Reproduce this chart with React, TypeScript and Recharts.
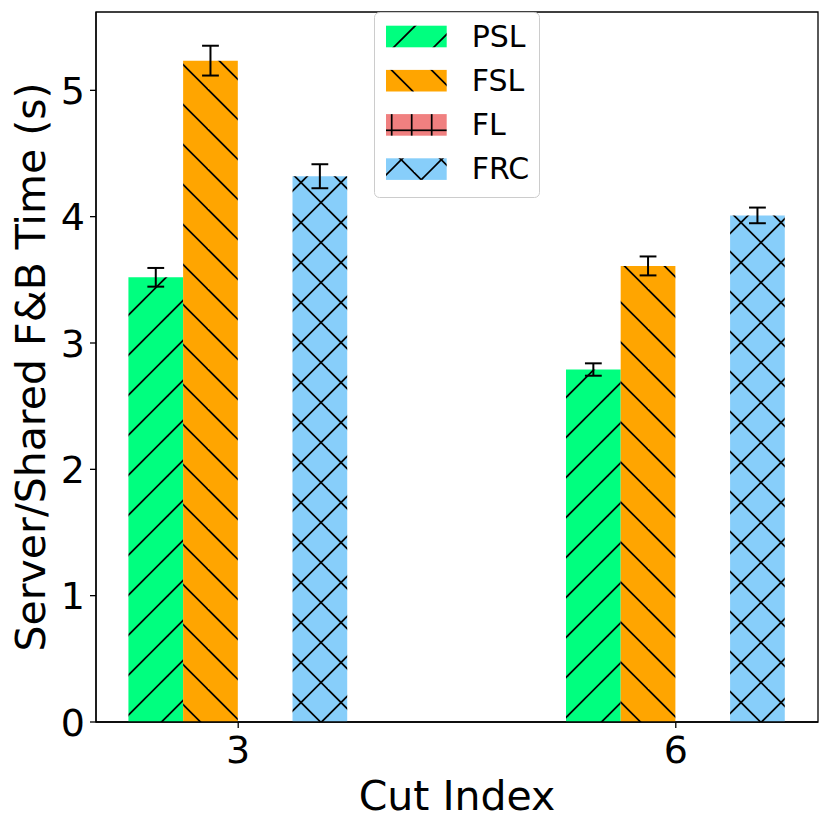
import React from 'react';
import { BarChart, Bar, XAxis, YAxis, ErrorBar, ReferenceArea, Legend } from 'recharts';

const cutIndex = [3, 6];
const seriesNames = ['PSL', 'FSL', 'FL', 'FRC'];
const pslMeans = [3.52, 2.79];
const pslErr = [0.074, 0.049];
const fslMeans = [5.235, 3.61];
const fslErr = [0.118, 0.075];
const flMeans = [0, 0];
const flErr = [0, 0];
const frcMeans = [4.32, 4.01];
const frcErr = [0.095, 0.062];
const yTicks = [0, 1, 2, 3, 4, 5];
const xTicks = [3, 6];

const data = cutIndex.map((c, i) => ({
  cut: c,
  psl: pslMeans[i],
  pslErr: pslErr[i],
  fsl: fslMeans[i],
  fslErr: fslErr[i],
  fl: flMeans[i],
  flErr: flErr[i],
  frc: frcMeans[i],
  frcErr: frcErr[i],
}));

const COLORS = { psl: '#00FF7F', fsl: '#FFA500', fl: '#F08080', frc: '#87CEFA' };
const FONT = 'DejaVu Sans';
const XMIN = 2.025;
const XMAX = 6.975;
const YMAX = 5.62;
const W = 815;
const H = 815;
const PLOT_W = 722;
const BAR_W = (PLOT_W / (XMAX - XMIN)) * 0.375;
const HW = 1.7;
const TICK_FS = 38;

const slash = (c0: number, key: string) =>
  [-1, 0, 1].map((k) => {
    const c = c0 + 40 * k;
    return <line key={key + k} x1={c - 50} y1={50} x2={c + 10} y2={-10} stroke="#000" strokeWidth={HW} />;
  });
const back = (d0: number, key: string) =>
  [-1, 0, 1].map((k) => {
    const d = d0 + 40 * k;
    return <line key={key + k} x1={d - 10} y1={-10} x2={d + 50} y2={50} stroke="#000" strokeWidth={HW} />;
  });

function Patterns({ prefix, s, b, px, py }: { prefix: string; s: number; b: number; px: number; py: number }) {
  return (
    <defs>
      <pattern id={prefix + 'psl'} patternUnits="userSpaceOnUse" x={0} y={0} width={40} height={40}>
        <rect width={40} height={40} fill={COLORS.psl} />
        {slash(s, 'a')}
      </pattern>
      <pattern id={prefix + 'fsl'} patternUnits="userSpaceOnUse" x={0} y={0} width={40} height={40}>
        <rect width={40} height={40} fill={COLORS.fsl} />
        {back(b, 'b')}
      </pattern>
      <pattern id={prefix + 'fl'} patternUnits="userSpaceOnUse" x={0} y={0} width={20} height={20}>
        <rect width={20} height={20} fill={COLORS.fl} />
        <line x1={px} y1={-1} x2={px} y2={21} stroke="#000" strokeWidth={HW} />
        <line x1={-1} y1={py} x2={21} y2={py} stroke="#000" strokeWidth={HW} />
      </pattern>
      <pattern id={prefix + 'frc'} patternUnits="userSpaceOnUse" x={0} y={0} width={40} height={40}>
        <rect width={40} height={40} fill={COLORS.frc} />
        {slash(s, 'c')}
        {back(b, 'd')}
      </pattern>
    </defs>
  );
}

const legendKeys = ['psl', 'fsl', 'fl', 'frc'];

function LegendBox() {
  return (
    <svg width={166} height={187} style={{ display: 'block' }}>
      <Patterns prefix="lg-" s={15} b={39.5} px={17.7} py={18.3} />
      <rect x={0.5} y={0.5} width={165} height={185} rx={5} ry={5} fill="#ffffff" fillOpacity={0.8} stroke="#cccccc" strokeWidth={1} />
      {legendKeys.map((k, i) => (
        <g key={k}>
          <rect x={12} y={13.7 + 44.2 * i} width={60.7} height={21.6} fill={`url(#lg-${k})`} />
          <text x={97.7} y={34.7 + 44.2 * i} fontSize={30} fontFamily={FONT} fill="#000">
            {seriesNames[i]}
          </text>
        </g>
      ))}
    </svg>
  );
}

const XTick = (props: any) => (
  <text x={props.x} y={props.y} dy="0.72em" textAnchor="middle" fontSize={TICK_FS} fontFamily={FONT} fill="#000">
    {props.payload.value}
  </text>
);
const YTick = (props: any) => (
  <text x={props.x} y={props.y} dy="0.36em" textAnchor="end" fontSize={TICK_FS} fontFamily={FONT} fill="#000">
    {props.payload.value}
  </text>
);

export default function App() {
  return (
    <div style={{ width: W, height: H }}>
      <BarChart
        width={W}
        height={H}
        data={data}
        margin={{ top: 4, right: 5, bottom: 0, left: 0 }}
        barSize={BAR_W}
        barGap={0}
      >
        <Patterns prefix="m-" s={27.5} b={38.5} px={10} py={10} />
        <XAxis
          dataKey="cut"
          type="number"
          domain={[XMIN, XMAX]}
          allowDataOverflow
          ticks={xTicks}
          tickCount={2}
          height={101}
          tickSize={6}
          tickMargin={8}
          tick={<XTick />}
          tickLine={{ stroke: '#000', strokeWidth: 1.3 }}
          axisLine={{ stroke: '#000', strokeWidth: 1.3 }}
        />
        <YAxis
          type="number"
          domain={[0, YMAX]}
          allowDataOverflow
          ticks={yTicks}
          width={88}
          tickSize={6}
          tickMargin={5}
          tick={<YTick />}
          tickLine={{ stroke: '#000', strokeWidth: 1.3 }}
          axisLine={{ stroke: '#000', strokeWidth: 1.3 }}
        />
        <Bar dataKey="psl" fill="url(#m-psl)" isAnimationActive={false}>
          <ErrorBar dataKey="pslErr" width={8.4} strokeWidth={2} stroke="#000" isAnimationActive={false} />
        </Bar>
        <Bar dataKey="fsl" fill="url(#m-fsl)" isAnimationActive={false}>
          <ErrorBar dataKey="fslErr" width={8.4} strokeWidth={2} stroke="#000" isAnimationActive={false} />
        </Bar>
        <Bar dataKey="fl" fill="url(#m-fl)" isAnimationActive={false}>
          <ErrorBar dataKey="flErr" width={8.4} strokeWidth={1} stroke="#999" isAnimationActive={false} />
        </Bar>
        <Bar dataKey="frc" fill="url(#m-frc)" isAnimationActive={false}>
          <ErrorBar dataKey="frcErr" width={8.4} strokeWidth={2} stroke="#000" isAnimationActive={false} />
        </Bar>
        <ReferenceArea
          x1={XMIN}
          x2={XMAX}
          y1={0}
          y2={YMAX}
          fill="none"
          fillOpacity={0}
          stroke="#000"
          strokeWidth={1.3}
          strokeOpacity={1}
          ifOverflow="visible"
        />
        <Legend
          layout="vertical"
          align="center"
          verticalAlign="middle"
          content={() => <LegendBox />}
          wrapperStyle={{ position: 'absolute', left: 366, top: 4, width: 166, height: 187 }}
        />
        <text x={449} y={802} textAnchor="middle" fontSize={41} fontFamily={FONT} fill="#000">
          Cut Index
        </text>
        <text
          x={37}
          y={359}
          transform="rotate(-90 37 359)"
          textAnchor="middle"
          fontSize={41}
          fontFamily={FONT}
          fill="#000"
        >
          Server/Shared F&amp;B Time (s)
        </text>
      </BarChart>
    </div>
  );
}
